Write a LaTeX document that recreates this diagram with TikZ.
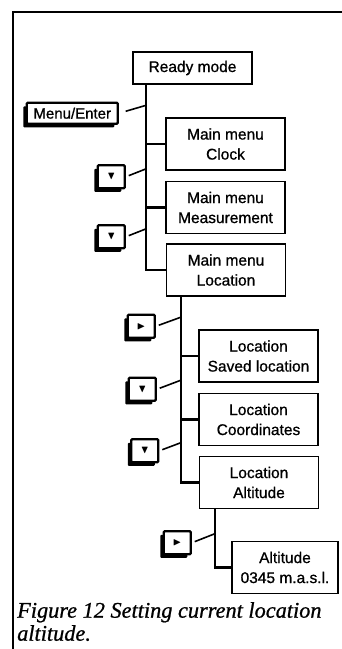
\documentclass[tikz,border=0pt]{standalone}
\usepackage{fontspec}
\usepackage{amssymb}
\setmainfont[FakeBold=0.8]{Liberation Sans}
\newfontfamily\capfont[FakeBold=0.8]{Liberation Serif}
\usetikzlibrary{shadows}

\begin{document}
\begin{tikzpicture}[x=1pt, y=-1pt,
        menubox/.style={draw, line width=1.5pt, minimum width=119pt, minimum height=52pt,
            align=center, inner sep=1pt, font=\fontsize{15.5}{20}\selectfont},
        keybox/.style={draw, fill=white, line width=2.4pt, rounded corners=1pt,
            minimum width=27pt, minimum height=23pt, inner sep=1pt,
            general shadow={fill=black, shadow xshift=-3.5pt, shadow yshift=-3.5pt}},
        trunk/.style={line width=2.3pt},
        keyline/.style={line width=1.6pt, shorten <=3pt}]
        \useasboundingbox[fill=white] (0,0) rectangle (342,649);
        % Frame
        \draw[line width=2.4pt] (13,649) -- (13,12) -- (342,12);

        % Main menu
        \node[menubox, minimum height=32pt] (ready) at (192.5,68) {Ready mode};
        \node[menubox] (clock) at (225.5,144) {Main menu\\Clock};
        \node[menubox] (meas) at (225.5,207.5) {Main menu\\Measurement};
        \node[menubox] (loc) at (226,270) {Main menu\\Location};

        % Location menu
        \node[menubox] (saved) at (258.5,356) {Location\\Saved location};
        \node[menubox] (coord) at (258.5,419.5) {Location\\Coordinates};
        \node[menubox] (alt) at (259,482.5) {Location\\Altitude};
        \node[menubox, minimum width=106pt] (altval) at (285,567.5) {Altitude\\0345 m.a.s.l.};

        % Keys
        \node[keybox, minimum width=91pt, minimum height=21pt, font=\fontsize{15}{18}\selectfont] (menukey) at (72.25,113.25) {Menu/Enter};
        \node[keybox] (down1) at (111.25,176.75) {\fontsize{11}{11}\selectfont$\blacktriangledown$};
        \node[keybox] (down2) at (111.25,236.75) {\fontsize{11}{11}\selectfont$\blacktriangledown$};
        \node[keybox] (right1) at (141.25,326.25) {\fontsize{11}{11}\selectfont$\blacktriangleright$};
        \node[keybox] (down3) at (142.25,389.25) {\fontsize{11}{11}\selectfont$\blacktriangledown$};
        \node[keybox] (down4) at (144.75,450.75) {\fontsize{11}{11}\selectfont$\blacktriangledown$};
        \node[keybox] (right2) at (177.25,542.75) {\fontsize{11}{11}\selectfont$\blacktriangleright$};

        % Trunks
        \coordinate (t1) at ([xshift=14pt]ready.south west);
        \coordinate (t2) at ([xshift=15pt]loc.south west);
        \coordinate (t3) at ([xshift=16pt]alt.south west);
        \draw[trunk] (t1) |- (loc.west);
        \draw[trunk] (clock.west) -- (clock.west -| t1);
        \draw[trunk] (meas.west) -- (meas.west -| t1);
        \draw[trunk] (t2) |- (alt.west);
        \draw[trunk] (saved.west) -- (saved.west -| t2);
        \draw[trunk] (coord.west) -- (coord.west -| t2);
        \draw[trunk] (t3) |- (altval.west);

        % Key lines
        \draw[keyline, shorten <=7pt] (menukey.east) -- ([yshift=8pt]menukey.east -| t1);
        \draw[keyline] (down1.east) -- ([yshift=8pt]down1.east -| t1);
        \draw[keyline] (down2.east) -- ([yshift=8pt]down2.east -| t1);
        \draw[keyline] (right1.east) -- ([yshift=9pt]right1.east -| t2);
        \draw[keyline] (down3.east) -- ([yshift=9pt]down3.east -| t2);
        \draw[keyline] (down4.east) -- ([yshift=8pt]down4.east -| t2);
        \draw[keyline] (right2.east) -- ([yshift=9pt]right2.east -| t3);

        % Caption
        \node[anchor=north west, align=left, inner sep=0pt,
            font=\capfont\itshape\fontsize{22.3}{23}\selectfont] (caption) at (17,602)
            {Figure 12 Setting current location\\altitude.};
    \end{tikzpicture}
\end{document}
